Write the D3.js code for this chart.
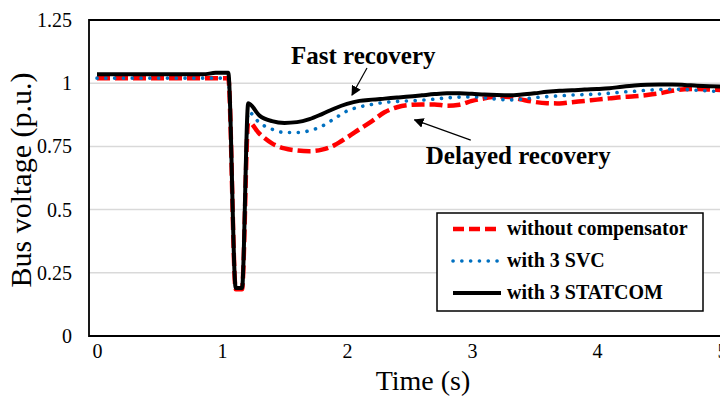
<!DOCTYPE html>
<html>
<head>
<meta charset="utf-8">
<script src="https://cdn.jsdelivr.net/npm/d3@7"></script>
<style>
  body { margin: 0; background: #fff; }
  svg { display: block; font-family: "Liberation Serif", "Times New Roman", serif; }
</style>
</head>
<body>
<div id="chart"></div>
<script>
// time samples (s)
const time = [0, 0.5, 0.85, 0.95, 1.05, 1.11, 1.16, 1.21, 1.3, 1.4, 1.5, 1.6, 1.7, 1.8, 1.9, 2.0,
  2.1, 2.2, 2.3, 2.4, 2.5, 2.6, 2.7, 2.8, 2.9, 3.0, 3.1, 3.2, 3.3, 3.4, 3.5, 3.6, 3.7, 3.8, 3.9,
  4.0, 4.1, 4.2, 4.3, 4.4, 4.5, 4.6, 4.7, 4.8, 4.9, 5.0];

const withoutComp = [1.02, 1.02, 1.02, 1.02, 1.02, 0.185, 0.185, 0.848, 0.8, 0.762, 0.742, 0.734, 0.731, 0.737, 0.755, 0.785,
  0.818, 0.85, 0.885, 0.905, 0.914, 0.916, 0.916, 0.911, 0.915, 0.93, 0.94, 0.948, 0.945, 0.935, 0.926, 0.921, 0.92, 0.925, 0.93,
  0.935, 0.94, 0.945, 0.948, 0.953, 0.96, 0.97, 0.976, 0.977, 0.975, 0.973];

const withSVC = [1.02, 1.02, 1.02, 1.02, 1.02, 0.19, 0.19, 0.887, 0.843, 0.818, 0.805, 0.805, 0.812, 0.83, 0.86, 0.89,
  0.906, 0.916, 0.924, 0.928, 0.93, 0.933, 0.937, 0.942, 0.945, 0.946, 0.942, 0.937, 0.934, 0.937, 0.943, 0.947, 0.95, 0.953, 0.955,
  0.957, 0.96, 0.965, 0.968, 0.972, 0.975, 0.976, 0.975, 0.972, 0.969, 0.967];

const withSTATCOM = [1.035, 1.035, 1.035, 1.041, 1.041, 0.19, 0.19, 0.921, 0.872, 0.85, 0.843, 0.846, 0.858, 0.878, 0.9, 0.918,
  0.93, 0.935, 0.939, 0.943, 0.947, 0.952, 0.957, 0.96, 0.96, 0.958, 0.955, 0.953, 0.952, 0.955, 0.96, 0.966, 0.97, 0.972, 0.975,
  0.977, 0.98, 0.986, 0.991, 0.994, 0.995, 0.995, 0.993, 0.99, 0.988, 0.987];

const yTicks = [0, 0.25, 0.5, 0.75, 1, 1.25];
const xTicks = [0, 1, 2, 3, 4, 5];

const seriesNames = ['without compensator', 'with 3 SVC', 'with 3 STATCOM'];

const width = 720, height = 397;
const plot = { left: 89, right: 740, top: 20, bottom: 336 };

const svg = d3.select('#chart').append('svg')
  .attr('width', width)
  .attr('height', height);

const x = d3.scaleLinear().domain([0, 5]).range([97, 722]);
const y = d3.scaleLinear().domain([0, 1.25]).range([plot.bottom, plot.top]);

// gridlines
svg.append('g')
  .selectAll('line')
  .data(yTicks.filter(d => d > 0 && d < 1.25))
  .enter().append('line')
  .attr('x1', plot.left).attr('x2', plot.right)
  .attr('y1', d => y(d)).attr('y2', d => y(d))
  .attr('stroke', '#d9d9d9')
  .attr('stroke-width', 1.5);

// y axis labels
const yAxis = svg.append('g')
  .attr('transform', `translate(${plot.left},0)`)
  .call(d3.axisLeft(y).tickValues(yTicks).tickSize(0).tickPadding(17)
    .tickFormat(d => d3.format('')(d)));
yAxis.select('.domain').remove();
yAxis.selectAll('text')
  .style('font-size', '20px')
  .style('font-family', '"Liberation Serif", "Times New Roman", serif')
  .attr('fill', '#000');

// x axis labels
const xAxis = svg.append('g')
  .attr('transform', `translate(0,${plot.bottom})`)
  .call(d3.axisBottom(x).tickValues(xTicks).tickSize(0).tickPadding(8).tickFormat(d3.format('d')));
xAxis.select('.domain').remove();
xAxis.selectAll('text')
  .style('font-size', '20px')
  .style('font-family', '"Liberation Serif", "Times New Roman", serif')
  .attr('fill', '#000');

// plot frame
svg.append('path')
  .attr('d', `M${plot.right},${plot.top}H${plot.left}V${plot.bottom}H${plot.right}`)
  .attr('fill', 'none')
  .attr('stroke', '#000')
  .attr('stroke-width', 1.8);

// lines
const styles = [
  { values: withoutComp, color: '#ff0000', dash: '13,5', w: 4.5, cap: 'butt' },
  { values: withSVC, color: '#0070c0', dash: '0.1,8.7', w: 3.6, cap: 'round' },
  { values: withSTATCOM, color: '#000000', dash: null, w: 4, cap: 'butt' }
];

const line = d3.line()
  .x(d => x(d[0]))
  .y(d => y(d[1]))
  .curve(d3.curveMonotoneX);

styles.forEach(s => {
  svg.append('path')
    .datum(time.map((t, i) => [t, s.values[i]]))
    .attr('fill', 'none')
    .attr('stroke', s.color)
    .attr('stroke-width', s.w)
    .attr('stroke-dasharray', s.dash)
    .attr('stroke-linecap', s.cap)
    .attr('stroke-linejoin', 'round')
    .attr('d', line);
});

// annotations
svg.append('defs').append('marker')
  .attr('id', 'arrow')
  .attr('viewBox', '0 0 10 10')
  .attr('refX', 9).attr('refY', 5)
  .attr('markerWidth', 10).attr('markerHeight', 10)
  .attr('markerUnits', 'userSpaceOnUse')
  .attr('orient', 'auto')
  .append('path')
  .attr('d', 'M0,0L10,5L0,10Z')
  .attr('fill', '#000');

const notes = [
  { text: 'Fast recovery', tx: 2.13, ty: 1.075, from: [2.16, 1.06], to: [2.04, 0.953] },
  { text: 'Delayed recovery', tx: 3.37, ty: 0.68, from: [2.99, 0.775], to: [2.54, 0.855] }
];

notes.forEach(n => {
  svg.append('text')
    .attr('x', x(n.tx)).attr('y', y(n.ty))
    .attr('text-anchor', 'middle')
    .style('font-size', '25px')
    .style('font-weight', 'bold')
    .text(n.text);
  svg.append('line')
    .attr('x1', x(n.from[0])).attr('y1', y(n.from[1]))
    .attr('x2', x(n.to[0])).attr('y2', y(n.to[1]))
    .attr('stroke', '#000')
    .attr('stroke-width', 1.2)
    .attr('marker-end', 'url(#arrow)');
});

// axis titles
svg.append('text')
  .attr('x', 423).attr('y', 390)
  .attr('text-anchor', 'middle')
  .style('font-size', '28px')
  .text('Time (s)');

svg.append('text')
  .attr('transform', 'translate(31,180) rotate(-90)')
  .attr('text-anchor', 'middle')
  .style('font-size', '30px')
  .text('Bus voltage (p.u.)');

// legend
const legend = svg.append('g').attr('transform', 'translate(437,213)');
legend.append('rect')
  .attr('width', 266).attr('height', 98)
  .attr('fill', '#fff')
  .attr('stroke', '#000')
  .attr('stroke-width', 1.5);

const rowY = d3.scalePoint().domain(seriesNames).range([16, 80]);

seriesNames.forEach((name, i) => {
  const s = styles[i];
  const g = legend.append('g').attr('transform', `translate(0,${rowY(name)})`);
  g.append('line')
    .attr('x1', 16).attr('x2', 64)
    .attr('stroke', s.color)
    .attr('stroke-width', s.w)
    .attr('stroke-dasharray', s.dash === '13,5' ? '11,5' : s.dash)
    .attr('stroke-linecap', s.cap);
  g.append('text')
    .attr('x', 70).attr('y', 6)
    .style('font-size', '20px')
    .style('font-weight', 'bold')
    .text(name);
});
</script>
</body>
</html>
